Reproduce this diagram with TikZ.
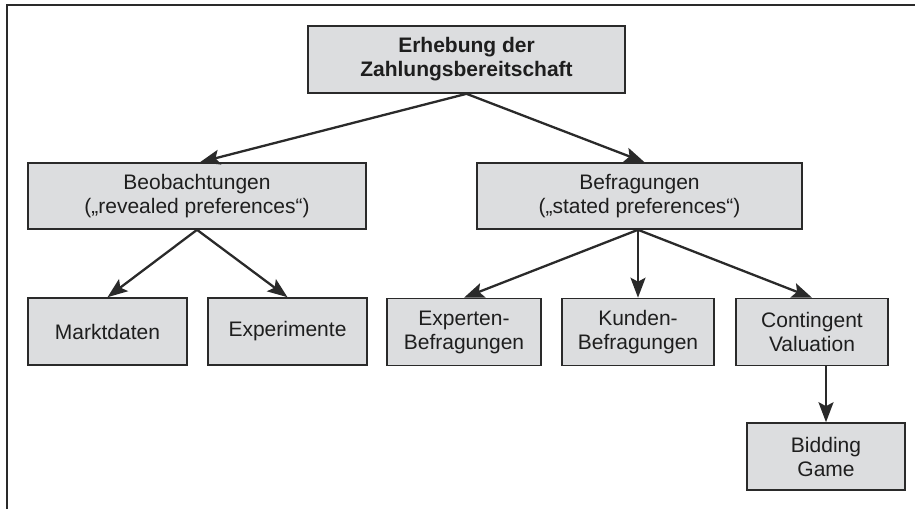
\documentclass[tikz,border=0pt]{standalone}
\usepackage{fontspec}
\setmainfont{Liberation Sans}
\usetikzlibrary{arrows.meta,calc}
\definecolor{boxfill}{HTML}{DCDDDF}
\definecolor{boxline}{HTML}{2A2A2A}
\definecolor{txt}{HTML}{1E1E1E}
\tikzset{
  box/.style={draw=boxline, line width=1.6pt, fill=boxfill, inner sep=0pt,
    align=center, text=txt, font=\fontsize{21}{24}\selectfont,
    minimum height=66pt},
  conn/.style={draw=boxline, line width=2.3pt,
    -{Stealth[length=20pt,width=15pt,inset=4pt]}}
}
\begin{document}
\begin{tikzpicture}[x=1pt,y=-1pt]
\useasboundingbox (0,0) rectangle (920,509);
% frame
\draw[draw=boxline, line width=2pt] (6.5,509) -- (6.5,4.5) -- (915,4.5);
% nodes
\node[box, minimum width=317pt, minimum height=67pt, font=\fontsize{21}{24}\selectfont\bfseries]
  (top) at (466.5,59.5) {Erhebung der\\Zahlungsbereitschaft};
\node[box, minimum width=338pt] (beob) at (197,196) {Beobachtungen\\(„revealed preferences“)};
\node[box, minimum width=325pt] (befr) at (639.5,196) {Befragungen\\(„stated preferences“)};
\node[box, minimum width=159pt, minimum height=67pt] (markt) at (107.5,331.5) {Marktdaten};
\node[box, minimum width=159pt, minimum height=67pt] (exp) at (287.5,331.5) {Experimente};
\node[box, minimum width=154pt, minimum height=67pt] (expb) at (464,332) {Experten-\\Befragungen};
\node[box, minimum width=152pt, minimum height=67pt] (kund) at (638,332) {Kunden-\\Befragungen};
\node[box, minimum width=152pt, minimum height=67pt] (cv) at (812,332) {Contingent\\Valuation};
\node[box, minimum width=158pt, minimum height=67pt] (bg) at (826,456.5) {Bidding\\Game};
% connectors
\coordinate (bs) at ($(befr.south)+(-1.5,0)$);
\draw[conn] (top.south) -- ($(beob.north)+(3,0)$);
\draw[conn] (top.south) -- ($(befr.north)+(5,0)$);
\draw[conn] (beob.south) -- (markt.north);
\draw[conn] (beob.south) -- (exp.north);
\draw[conn] (bs) -- (expb.north);
\draw[conn] (bs) -- (kund.north);
\draw[conn] (bs) -- (cv.north);
\draw[conn] (cv.south -| bg.north) -- (bg.north);
\end{tikzpicture}
\end{document}
